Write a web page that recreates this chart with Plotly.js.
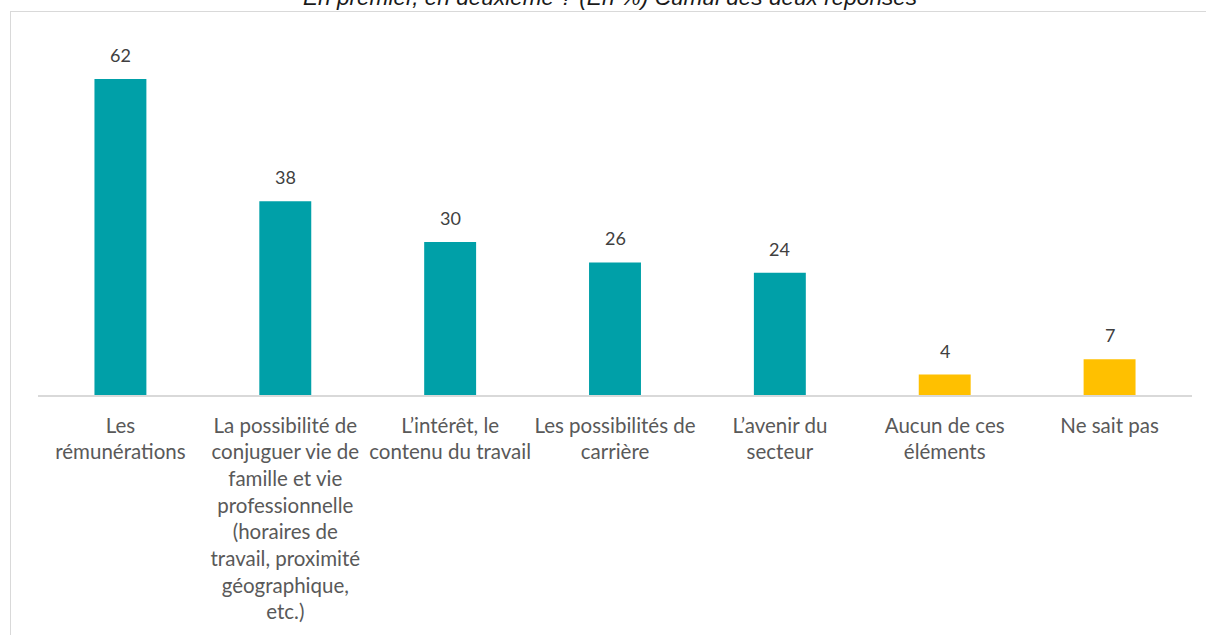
<!DOCTYPE html>
<html>
<head>
<meta charset="utf-8">
<script src="https://cdn.plot.ly/plotly-3.0.1.min.js"></script>
<style>
html,body{margin:0;padding:0;background:#fff;}
#frame{position:absolute;left:10px;top:11px;width:1300px;height:700px;border:1px solid #d9d9d9;box-sizing:border-box;}
#chart{position:absolute;left:0;top:0;width:1206px;height:635px;}
</style>
</head>
<body>
<div id="frame"></div>
<div id="chart"></div>
<script>
const categories = [
  "Les<br>rémunérations",
  "La possibilité de<br>conjuguer vie de<br>famille et vie<br>professionnelle<br>(horaires de<br>travail, proximité<br>géographique,<br>etc.)",
  "L’intérêt, le<br>contenu du travail",
  "Les possibilités de<br>carrière",
  "L’avenir du<br>secteur",
  "Aucun de ces<br>éléments",
  "Ne sait pas"
];
const values = [62, 38, 30, 26, 24, 4, 7];
const barColors = ["#00A0A8","#00A0A8","#00A0A8","#00A0A8","#00A0A8","#FFC000","#FFC000"];
const titleText = "<i>En premier, en deuxième ? (En %) Cumul des deux réponses</i>";

const trace = {
  type: "bar",
  x: categories,
  y: values,
  marker: {color: barColors},
  hoverinfo: "none"
};

const annotations = categories.map((c, i) => ({
  x: c, y: values[i], xref: "x", yref: "y",
  text: String(values[i]),
  showarrow: false,
  yanchor: "middle",
  yshift: 24,
  font: {family: "Lato, 'Open Sans', sans-serif", size: 18, color: "#404040"}
}));

annotations.push({
  text: titleText,
  xref: "paper", yref: "paper",
  x: (610 - 38) / (1206 - 38 - 14), xanchor: "center",
  y: 1 + 32 / 365, yanchor: "middle",
  showarrow: false,
  font: {family: "'Liberation Sans', Arial, sans-serif", size: 22.6, color: "#1a1a1a"}
});

const layout = {
  width: 1206,
  height: 635,
  margin: {l: 38, r: 14, t: 30, b: 240},
  paper_bgcolor: "rgba(0,0,0,0)",
  plot_bgcolor: "rgba(0,0,0,0)",
  bargap: 0.685,
  showlegend: false,
  font: {family: "Lato, 'Open Sans', sans-serif", size: 20.5, color: "#595959"},
  annotations: annotations,
  xaxis: {
    showline: true, linecolor: "#d9d9d9", linewidth: 2,
    ticks: "", showgrid: false, zeroline: false,
    ticklabelstandoff: 11,
    tickfont: {family: "Lato, 'Open Sans', sans-serif", size: 20.5, color: "#595959"},
    tickangle: 0
  },
  yaxis: {
    range: [0, 71.6], visible: false, showgrid: false, zeroline: false
  }
};

Plotly.newPlot("chart", [trace], layout, {displayModeBar: false, staticPlot: true});
</script>
</body>
</html>
